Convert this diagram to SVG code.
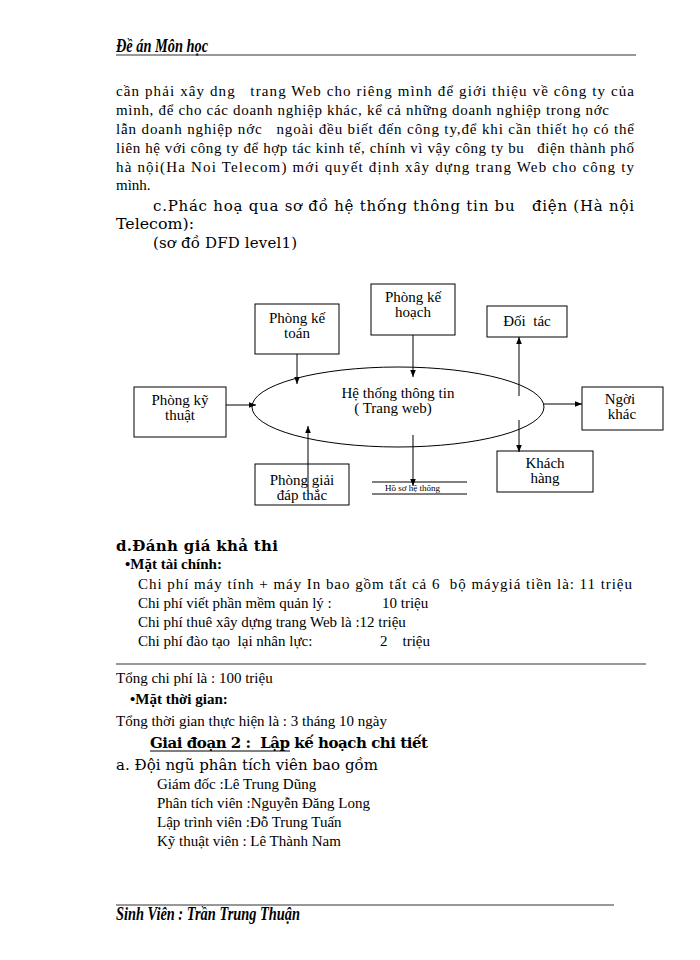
<svg xmlns="http://www.w3.org/2000/svg" width="700" height="960" viewBox="0 0 700 960" xml:space="preserve">
<defs>
<marker id="ah" viewBox="0 0 10 10" refX="10" refY="5" markerWidth="7" markerHeight="7" orient="auto" markerUnits="userSpaceOnUse">
<path d="M0,1 L10,5 L0,9 z" fill="#000"/>
</marker>
<style>
text{white-space:pre}
.t{font-family:"Liberation Serif","Times New Roman",serif;font-size:15px;fill:#000}
.h{font-family:"DejaVu Serif","Liberation Serif",serif;font-size:15px;fill:#000}
.s{font-family:"Liberation Serif","Times New Roman",serif;font-size:18px;font-style:italic;font-weight:bold;fill:#000}
.n{font-family:"Liberation Serif","Times New Roman",serif;font-size:15px;fill:#000;text-anchor:middle}
.b{fill:#fff;stroke:#000;stroke-width:1}
.c{stroke:#000;stroke-width:1;fill:none}
.r{stroke:#333;stroke-width:1}
</style>
</defs>
<rect width="700" height="960" fill="#fff"/>

<!-- header -->
<text class="s" x="116" y="52" font-size="13" textLength="92" lengthAdjust="spacingAndGlyphs">Đề án Môn học</text>
<line class="r" x1="116" y1="55" x2="636" y2="55"/>

<!-- paragraph -->
<text class="t" x="116" y="96" textLength="518" lengthAdjust="spacing">cần phải xây dng   trang Web cho riêng mình để giới thiệu về công ty của</text>
<text class="t" x="116" y="115" textLength="493" lengthAdjust="spacing">mình, để cho các doanh nghiệp khác, kể cả những doanh nghiệp trong nớc</text>
<text class="t" x="116" y="134" textLength="518" lengthAdjust="spacing">lẫn doanh nghiệp nớc   ngoài đều biết đến công ty,để khi cần thiết họ có thể</text>
<text class="t" x="116" y="153" textLength="518" lengthAdjust="spacing">liên hệ với công ty để hợp tác kinh tế, chính vì vậy công ty bu   điện thành phố</text>
<text class="t" x="116" y="172" textLength="518" lengthAdjust="spacing">hà nội(Ha Noi Telecom) mới quyết định xây dựng trang Web cho công ty</text>
<text class="t" x="116" y="190">mình.</text>

<text class="h" x="153" y="211" textLength="481" lengthAdjust="spacing">c.Phác hoạ qua sơ đồ hệ thống thông tin bu   điện (Hà nội</text>
<text class="h" x="116" y="229" textLength="78" lengthAdjust="spacingAndGlyphs">Telecom):</text>
<text class="h" x="153" y="248" textLength="144" lengthAdjust="spacing">(sơ đồ DFD level1)</text>

<!-- diagram nodes -->
<g id="he-thong">
<ellipse class="c" cx="398" cy="407" rx="146" ry="40"/>
<text class="n" x="398" y="398">Hệ thống thông tin</text>
<text class="n" x="393" y="413">( Trang web)</text>
</g>
<g id="phong-ke-toan">
<rect class="b" x="255" y="304" width="84" height="50"/>
<text class="n" x="297" y="323">Phòng kế</text>
<text class="n" x="297" y="338">toán</text>
</g>
<g id="phong-ke-hoach">
<rect class="b" x="371" y="284" width="84" height="51"/>
<text class="n" x="413" y="302">Phòng kế</text>
<text class="n" x="413" y="317">hoạch</text>
</g>
<g id="doi-tac">
<rect class="b" x="487" y="306" width="80" height="31"/>
<text class="n" x="527" y="326">Đối  tác</text>
</g>
<g id="phong-ky-thuat">
<rect class="b" x="134" y="387" width="92" height="50"/>
<text class="n" x="180" y="405">Phòng kỹ</text>
<text class="n" x="180" y="420">thuật</text>
</g>
<g id="nguoi-khac">
<rect class="b" x="582" y="387" width="81" height="43"/>
<text class="n" x="620" y="404">Ngời</text>
<text class="n" x="622" y="419">khác</text>
</g>
<g id="phong-giai-dap">
<rect class="b" x="255" y="464" width="94" height="41"/>
<text class="n" x="302" y="485">Phòng giải</text>
<text class="n" x="302" y="500">đáp thắc</text>
</g>
<g id="ho-so">
<line class="c" x1="372" y1="482" x2="467" y2="482"/>
<line class="c" x1="372" y1="494" x2="467" y2="494"/>
<text x="385" y="491" font-family="Liberation Serif, serif" font-size="9">Hồ sơ hệ thống</text>
</g>
<g id="khach-hang">
<rect class="b" x="497" y="451" width="96" height="41"/>
<text class="n" x="545" y="468">Khách</text>
<text class="n" x="545" y="483">hàng</text>
</g>

<!-- connectors -->
<g id="connectors">
<line class="c" x1="297" y1="354" x2="297" y2="384" marker-end="url(#ah)"/>
<line class="c" x1="413" y1="335" x2="413" y2="377" marker-end="url(#ah)"/>
<line class="c" x1="519" y1="396" x2="519" y2="337" marker-end="url(#ah)"/>
<line class="c" x1="519" y1="420" x2="519" y2="452" marker-end="url(#ah)"/>
<line class="c" x1="544" y1="404" x2="582" y2="404" marker-end="url(#ah)"/>
<line class="c" x1="226" y1="405" x2="256" y2="405" marker-end="url(#ah)"/>
<line class="c" x1="308" y1="490" x2="308" y2="426" marker-end="url(#ah)"/>
<line class="c" x1="413" y1="435" x2="413" y2="486" marker-end="url(#ah)"/>
</g>

<!-- section d -->
<text class="h" x="116" y="551" font-size="18" font-weight="bold" textLength="162" lengthAdjust="spacing">d.Đánh giá khả thi</text>
<text class="t" x="125" y="569" font-weight="bold">•Mặt tài chính:</text>
<text class="t" x="138" y="589" textLength="494" lengthAdjust="spacing">Chi phí máy tính + máy In bao gồm tất cả 6  bộ máygiá tiền là: 11 triệu</text>
<text class="t" x="138" y="608">Chi phí viết phần mềm quản lý :</text>
<text class="t" x="382" y="608">10 triệu</text>
<text class="t" x="138" y="627">Chi phí thuê xây dựng trang Web là :12 triệu</text>
<text class="t" x="138" y="646">Chi phí đào tạo  lại nhân lực:</text>
<text class="t" x="380" y="646">2    triệu</text>
<line class="r" x1="116" y1="664" x2="646" y2="664"/>

<text class="t" x="116" y="683">Tổng chi phí là : 100 triệu</text>
<text class="t" x="130" y="704" font-weight="bold">•Mặt thời gian:</text>
<text class="t" x="116" y="726">Tổng thời gian thực hiện là : 3 tháng 10 ngày</text>
<text class="h" x="150" y="748" font-size="16" font-weight="bold" textLength="278" lengthAdjust="spacing">Giai đoạn 2 :  Lập kế hoạch chi tiết</text>
<line x1="150" y1="751" x2="290" y2="751" stroke="#000" stroke-width="1.2"/>
<text class="h" x="116" y="770" font-size="16" textLength="262" lengthAdjust="spacing">a. Đội ngũ phân tích viên bao gồm</text>
<text class="t" x="157" y="789">Giám đốc :Lê Trung Dũng</text>
<text class="t" x="157" y="808">Phân tích viên :Nguyễn Đăng Long</text>
<text class="t" x="157" y="827">Lập trình viên :Đỗ Trung Tuấn</text>
<text class="t" x="157" y="846">Kỹ thuật viên : Lê Thành Nam</text>

<!-- footer -->
<line class="r" x1="116" y1="905" x2="614" y2="905"/>
<text class="s" x="116" y="920" font-size="13" textLength="184" lengthAdjust="spacingAndGlyphs">Sinh Viên : Trần Trung Thuận</text>
</svg>
